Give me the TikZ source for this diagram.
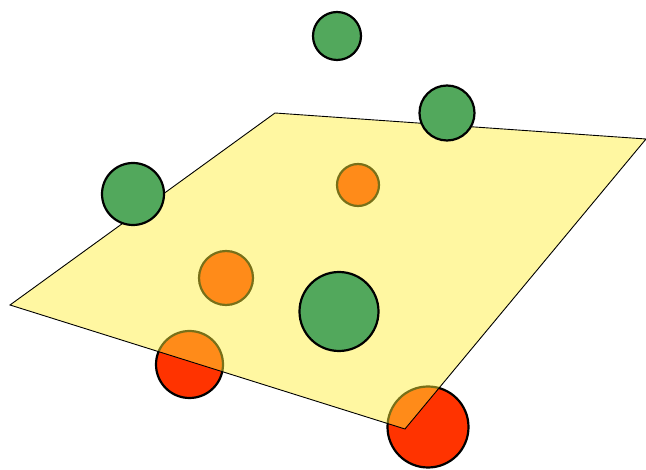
\documentclass[tikz,border=0pt]{standalone}
\begin{document}
\begin{tikzpicture}[x=1pt,y=-1pt,
  below/.style={fill={rgb,255:red,255;green,51;blue,0},draw=black,line width=2.2pt},
  above/.style={fill={rgb,255:red,82;green,168;blue,92},draw=black,line width=2.2pt},
  plane/.style={fill={rgb,255:red,255;green,238;blue,55},fill opacity=0.47,draw=black,line width=0.9pt}]
\useasboundingbox (0,0) rectangle (646,470);
% spheres below the plane
\draw[below] (358,185) circle (21);
\draw[below] (226,278) circle (27);
\draw[below] (189.5,364.5) circle (33.5);
\draw[below] (428,427) circle (40.5);
% plane
\draw[plane] (10,305) -- (275,113) -- (646,139) -- (405,429) -- cycle;
% spheres above the plane
\draw[above] (337,36) circle (24);
\draw[above] (447,113) circle (27.5);
\draw[above] (133,194) circle (31);
\draw[above] (339,311.5) circle (39.5);
\end{tikzpicture}
\end{document}
